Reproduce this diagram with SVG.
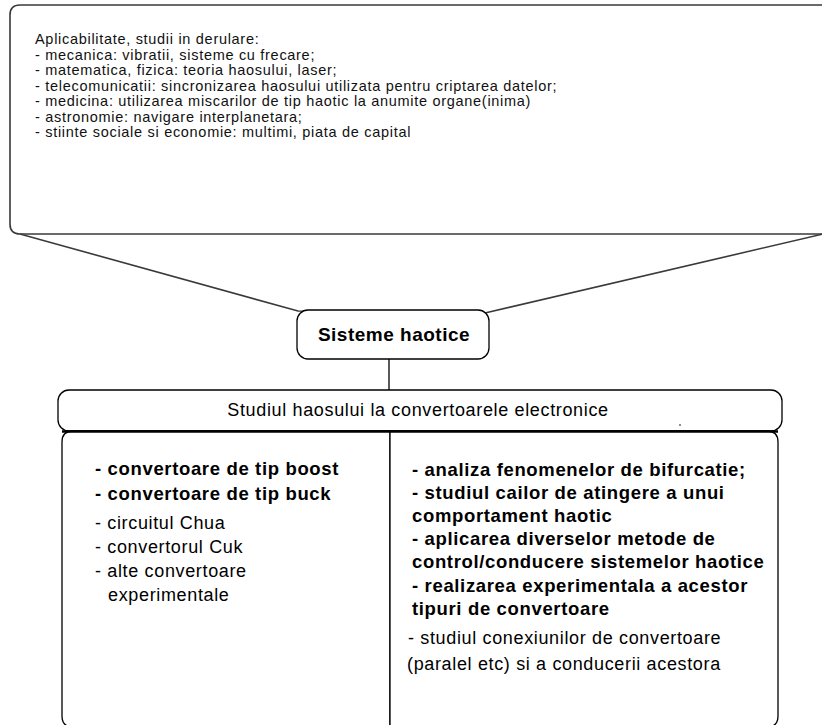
<svg xmlns="http://www.w3.org/2000/svg" width="822" height="725" viewBox="0 0 822 725">
<style>
text{font-family:"Liberation Sans",Arial,sans-serif;fill:#000}
.top{font-size:14.5px;letter-spacing:0.7px;fill:#111}
.b{font-weight:bold;font-size:18.5px;letter-spacing:0.65px}
.n{font-size:18px;letter-spacing:0.65px}
.box{fill:#fff;stroke:#000;stroke-width:1.3}
.callout{fill:#fff;stroke:#3a3a3a;stroke-width:1.6}
.conn{stroke:#000;stroke-width:1.3;fill:none}
</style>
<rect width="822" height="725" fill="#fff"/>
<g id="callout">
<path class="callout" d="M823,5 H20 Q10,5 10,15 V224 Q10,234 20,234 L298,311 L485,313 L823,234"/>
<line x1="20" y1="234" x2="823" y2="234" stroke="#3a3a3a" stroke-width="1.6"/>
<text class="top" x="35" y="44">Aplicabilitate, studii in derulare:</text>
<text class="top" x="35" y="60">- mecanica: vibratii, sisteme cu frecare;</text>
<text class="top" x="35" y="75">- matematica, fizica: teoria haosului, laser;</text>
<text class="top" x="35" y="91">- telecomunicatii: sincronizarea haosului utilizata pentru criptarea datelor;</text>
<text class="top" x="35" y="106">- medicina: utilizarea miscarilor de tip haotic la anumite organe(inima)</text>
<text class="top" x="35" y="122">- astronomie: navigare interplanetara;</text>
<text class="top" x="35" y="137">- stiinte sociale si economie: multimi, piata de capital</text>
</g>
<g id="connectors">
<line class="conn" x1="389" y1="359" x2="389" y2="390"/>
</g>
<g id="sisteme">
<rect class="box" x="297" y="310" width="192" height="49" rx="11"/>
<text x="394" y="341" text-anchor="middle" style="font-weight:bold;font-size:19px;letter-spacing:0.5px">Sisteme haotice</text>
</g>
<g id="studiul">
<rect class="box" x="58" y="390" width="724" height="41" rx="11"/>
<text class="n" x="418" y="416" text-anchor="middle">Studiul haosului la convertoarele electronice</text>
<circle cx="680" cy="425" r="0.8" fill="#000"/>
</g>
<g id="left">
<path class="box" d="M390,431 H73 Q62,431 62,442 V716 Q62,727 73,727 H390 Z"/>
<line x1="62" y1="431.5" x2="390" y2="431.5" stroke="#000" stroke-width="2.5"/>
<text class="b" x="95" y="475">- convertoare de tip boost</text>
<text class="b" x="95" y="500">- convertoare de tip buck</text>
<text class="n" x="95" y="529">- circuitul Chua</text>
<text class="n" x="95" y="553">- convertorul Cuk</text>
<text class="n" x="95" y="577">- alte convertoare</text>
<text class="n" x="108" y="601">experimentale</text>
</g>
<g id="right">
<path class="box" d="M390,431 H767 Q778,431 778,442 V716 Q778,727 767,727 H390 Z"/>
<line x1="390" y1="431.5" x2="778" y2="431.5" stroke="#000" stroke-width="2.5"/>
<text class="b" x="412" y="476">- analiza fenomenelor de bifurcatie;</text>
<text class="b" x="412" y="499">- studiul cailor de atingere a unui</text>
<text class="b" x="412" y="522">comportament haotic</text>
<text class="b" x="412" y="545">- aplicarea diverselor metode de</text>
<text class="b" x="412" y="568">control/conducere sistemelor haotice</text>
<text class="b" x="412" y="592">- realizarea experimentala a acestor</text>
<text class="b" x="412" y="615">tipuri de convertoare</text>
<text class="n" x="408" y="644">- studiul conexiunilor de convertoare</text>
<text class="n" x="407" y="670">(paralel etc) si a conducerii acestora</text>
</g>
</svg>
